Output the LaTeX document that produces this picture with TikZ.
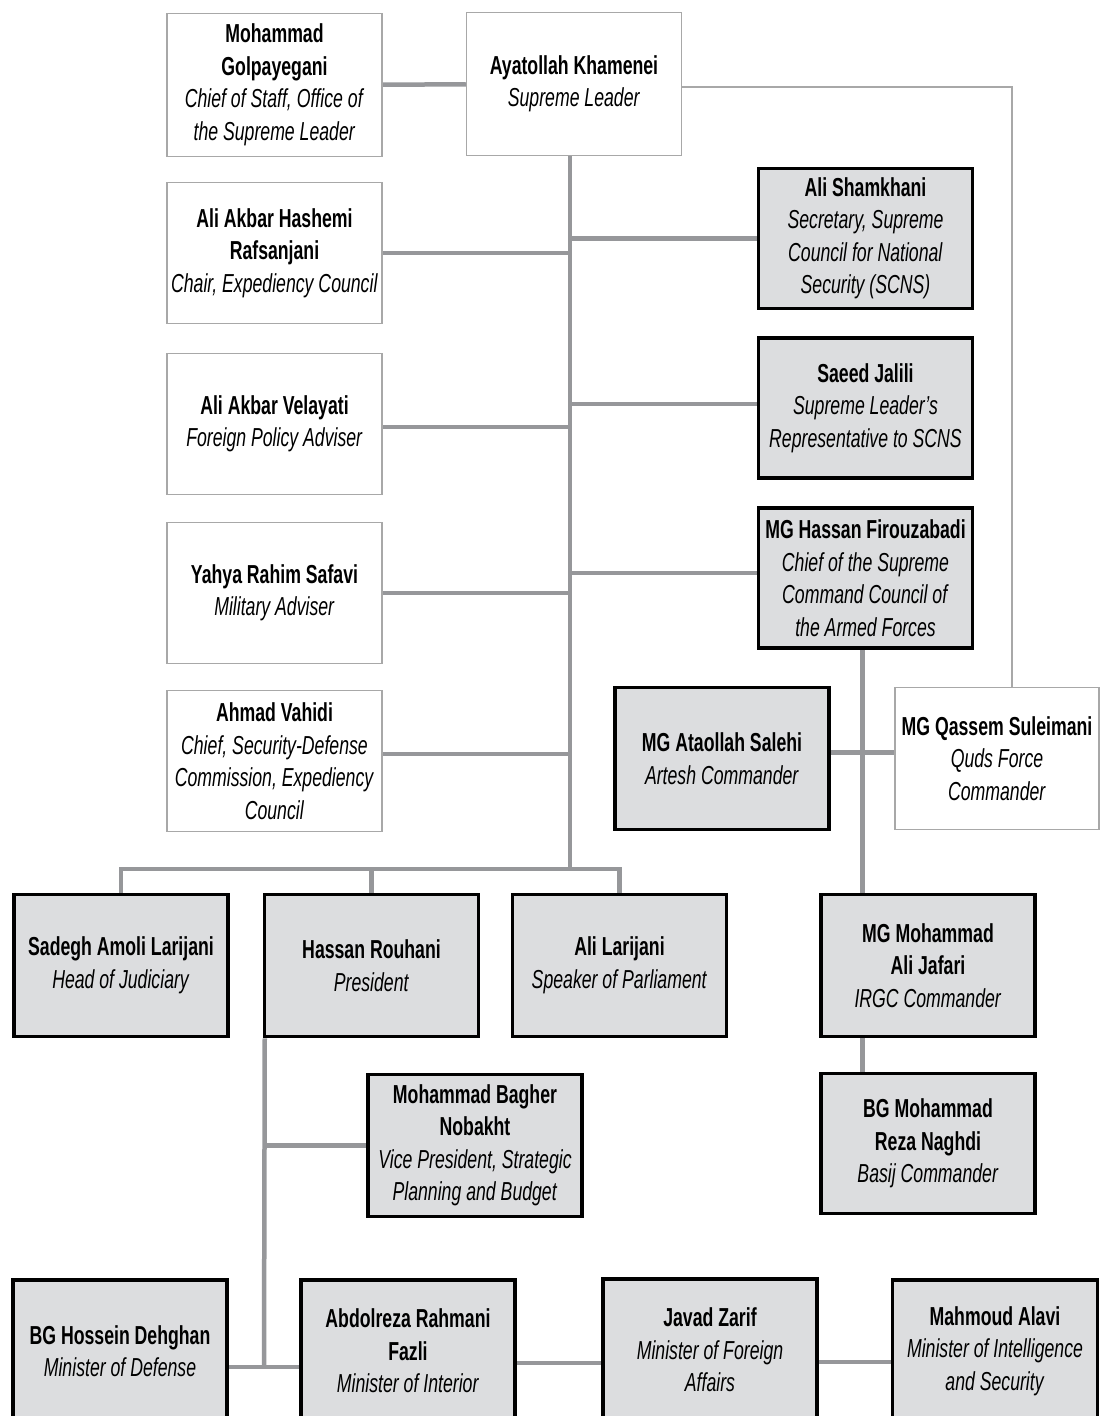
\documentclass[tikz,border=0pt]{standalone}
\usepackage{fontspec}
\setmainfont{Liberation Sans}[FakeStretch=0.68]
\usepackage{tikz}
\usetikzlibrary{positioning, calc, backgrounds}
\definecolor{boxgray}{HTML}{DCDDDF}
\definecolor{linegray}{HTML}{96979A}
\definecolor{edgegray}{HTML}{A8A8A8}
\newcommand{\nm}[1]{\textbf{#1}}
\newcommand{\rl}[1]{\textit{#1}}

\begin{document}
\begin{tikzpicture}[x=1pt, y=-1pt,
    adviser/.style={draw=edgegray, line width=1.5pt, fill=white, minimum width=215pt, minimum height=141pt, inner sep=0pt, align=center, font=\fontsize{26}{32.5}\selectfont},
    official/.style={adviser, draw=black, line width=3.5pt, fill=boxgray, minimum width=214pt, minimum height=140pt},
    link/.style={draw=linegray, line width=4.5pt},
    thinlink/.style={draw=edgegray, line width=1.8pt}
]

\path[use as bounding box] (0,0) rectangle (1100,1416);

% Supreme Leader and advisers
\node[adviser, minimum height=143pt] (gol) at (274.5,85) {\nm{Mohammad}\\\nm{Golpayegani}\\\rl{Chief of Staff, Office of}\\\rl{the Supreme Leader}};
\node[adviser, minimum height=143pt] (kham) at (574,84) {\nm{Ayatollah Khamenei}\\\rl{Supreme Leader}};
\node[adviser] (raf) at (274.5,253) {\nm{Ali Akbar Hashemi}\\\nm{Rafsanjani}\\\rl{Chair, Expediency Council}};
\node[adviser] (vel) at (274.5,424) {\nm{Ali Akbar Velayati}\\\rl{Foreign Policy Adviser}};
\node[adviser] (saf) at (274.5,593) {\nm{Yahya Rahim Safavi}\\\rl{Military Adviser}};
\node[adviser] (vah) at (274.5,761) {\nm{Ahmad Vahidi}\\\rl{Chief, Security-Defense}\\\rl{Commission, Expediency}\\\rl{Council}};

% Security and armed forces
\node[official] (sham) at (865.5,238.5) {\nm{Ali Shamkhani}\\\rl{Secretary, Supreme}\\\rl{Council for National}\\\rl{Security (SCNS)}};
\node[official] (jal) at (865.5,408) {\nm{Saeed Jalili}\\\rl{Supreme Leader's}\\\rl{Representative to SCNS}};
\node[official] (firo) at (865.5,578) {\nm{MG Hassan Firouzabadi}\\\rl{Chief of the Supreme}\\\rl{Command Council of}\\\rl{the Armed Forces}};
\node[official, minimum height=142pt] (sal) at (722,758.5) {\nm{MG Ataollah Salehi}\\\rl{Artesh Commander}};
\node[adviser, minimum width=204pt, minimum height=142pt] (sul) at (997,758.5) {\nm{MG Qassem Suleimani}\\\rl{Quds Force}\\\rl{Commander}};
\node[official, minimum height=142pt] (jaf) at (928,965.5) {\nm{MG Mohammad}\\\nm{Ali Jafari}\\\rl{IRGC Commander}};
\node[official] (nag) at (928,1143.5) {\nm{BG Mohammad}\\\nm{Reza Naghdi}\\\rl{Basij Commander}};

% Heads of branches
\node[official, minimum height=142pt] (sad) at (121,965.5) {\nm{Sadegh Amoli Larijani}\\\rl{Head of Judiciary}};
\node[official, minimum height=142pt] (rou) at (371.5,965.5) {\nm{Hassan Rouhani}\\\rl{President}};
\node[official, minimum height=142pt] (ali) at (619.5,965.5) {\nm{Ali Larijani}\\\rl{Speaker of Parliament}};

% Government
\node[official, minimum height=142pt] (nob) at (475,1145.5) {\nm{Mohammad Bagher}\\\nm{Nobakht}\\\rl{Vice President, Strategic}\\\rl{Planning and Budget}};
\node[official, minimum height=142pt] (deh) at (120,1351) {\nm{BG Hossein Dehghan}\\\rl{Minister of Defense}};
\node[official, minimum height=142pt] (faz) at (408,1351) {\nm{Abdolreza Rahmani}\\\nm{Fazli}\\\rl{Minister of Interior}};
\node[official, minimum height=142pt] (zar) at (710,1350) {\nm{Javad Zarif}\\\rl{Minister of Foreign}\\\rl{Affairs}};
\node[official, minimum width=205pt, minimum height=142pt] (ala) at (995,1351) {\nm{Mahmoud Alavi}\\\rl{Minister of Intelligence}\\\rl{and Security}};

\coordinate (trunk) at (570,869);
\coordinate (rouend) at (264,1367);
\coordinate (sulbend) at (1012,87);

\begin{scope}[on background layer]
\fill[white] (0,0) rectangle (1100,1416);
% Main trunk
\path[link] (gol) -- (kham);
\path[link] ([xshift=-4pt]kham.south) -- (trunk);
\path[link] (raf.east) -- (raf.east -| trunk);
\path[link] ([yshift=-3pt]vel.east) -- ([yshift=-3pt]vel.east -| trunk);
\path[link] (saf.east) -- (saf.east -| trunk);
\path[link] ([yshift=7pt]vah.east) -- ([yshift=7pt]vah.east -| trunk);
\path[link] (sham.west) -- (sham.west -| trunk);
\path[link] ([yshift=4pt]jal.west) -- ([yshift=4pt]jal.west -| trunk);
\path[link] ([yshift=5pt]firo.west) -- ([yshift=5pt]firo.west -| trunk);
\path[link] (sad.north) -- (sad.north |- trunk) -- (ali.north |- trunk) -- (ali.north);
\path[link] (rou.north) -- (rou.north |- trunk);

% Armed forces
\path[link] ([xshift=-3pt]firo.south) -- ([xshift=-3pt]firo.south |- jaf.north);
\path[link] ([xshift=-3pt]firo.south |- jaf.south) -- ([xshift=-3pt]firo.south |- nag.north);
\path[link] ([yshift=6pt]sal.east) -- ([yshift=6pt]sul.west);
\path[thinlink] (kham.east |- sulbend) -- (sulbend) -- (sulbend |- sul.north);

% Government
\path[link] ([xshift=2pt]rou.south west) -- (rouend);
\path[link] (nob.west) -- (nob.west -| rouend);
\path[link] (deh.east |- rouend) -- (faz.west |- rouend);
\path[link] ([yshift=-12pt]faz.east) -- ([yshift=-12pt]faz.east -| zar.west);
\path[link] ([yshift=-12pt]zar.east) -- ([yshift=-12pt]zar.east -| ala.west);
\end{scope}

\end{tikzpicture}
\end{document}
